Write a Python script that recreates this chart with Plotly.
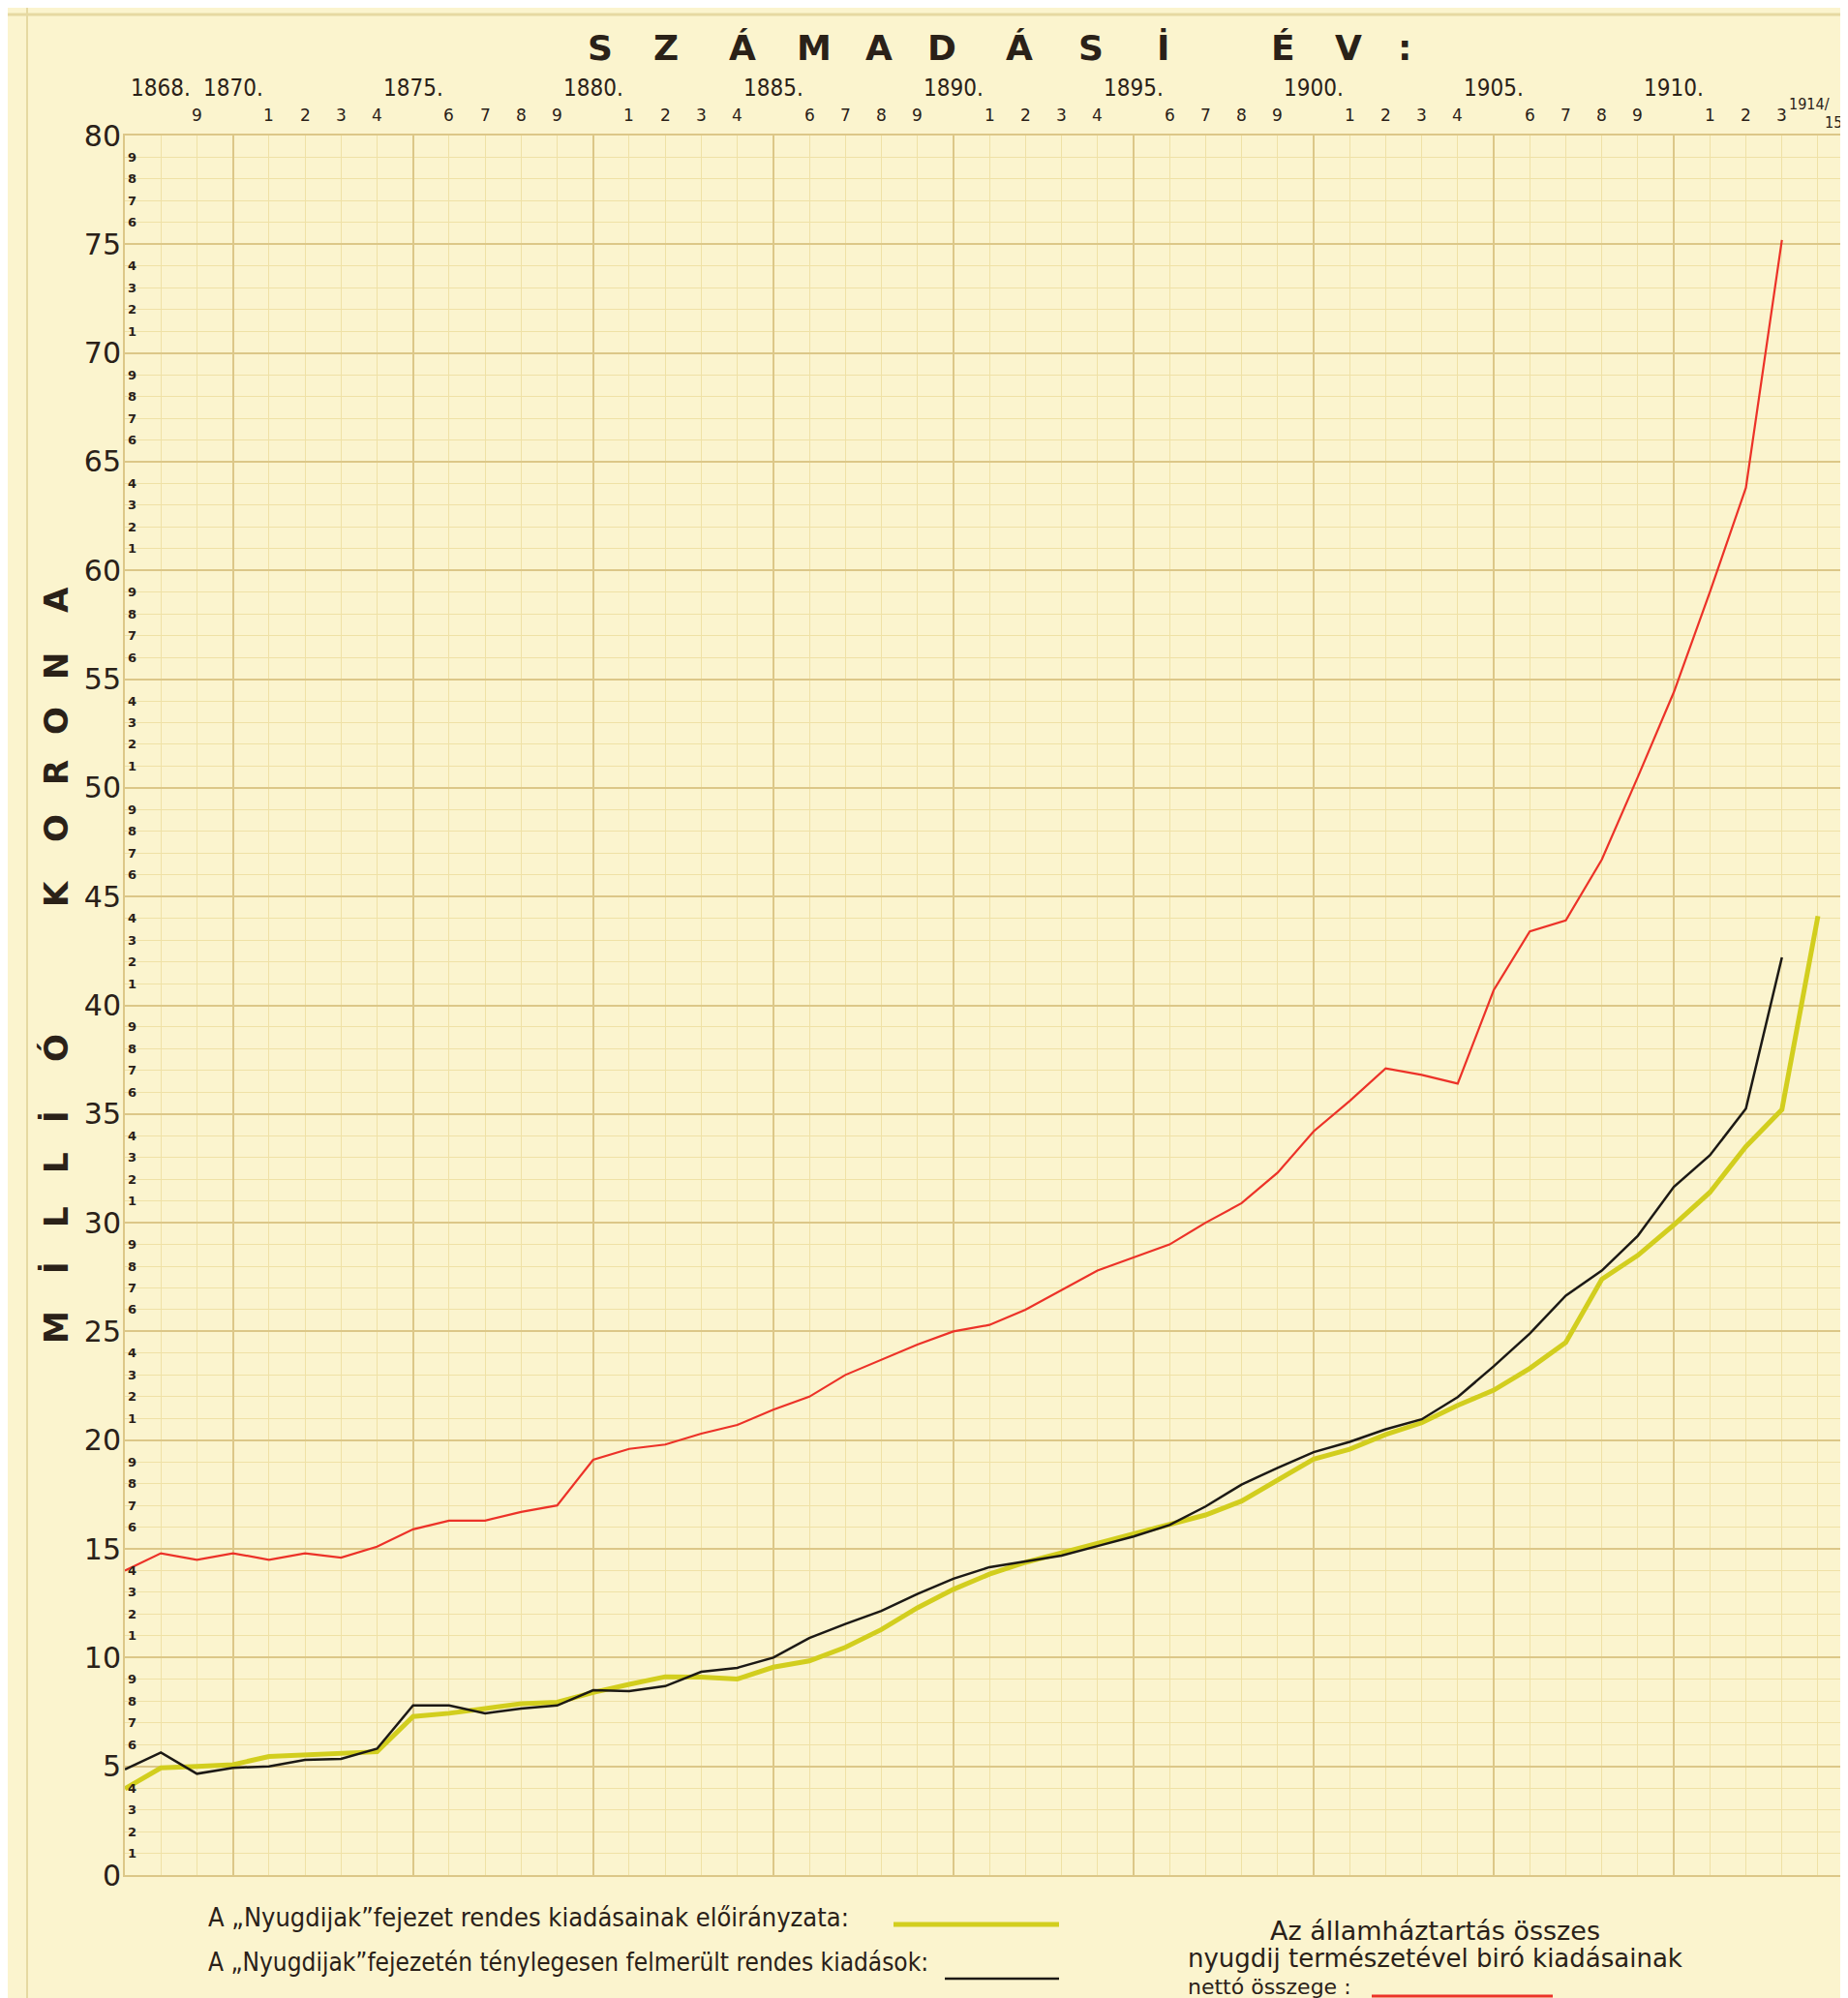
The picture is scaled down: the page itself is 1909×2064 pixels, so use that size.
import plotly.graph_objects as go

# ---------------- data (million korona) ----------------
years_red = list(range(1867, 1914))
red_net_total = [14.0, 14.8, 14.5, 14.8, 14.5, 14.8, 14.6, 15.1, 15.9, 16.3, 16.3, 16.7, 17.0,
                 19.1, 19.6, 19.8, 20.3, 20.7, 21.4, 22.0, 23.0, 23.7, 24.4,
                 25.0, 25.3, 26.0, 26.9, 27.8, 28.4, 29.0, 30.0, 30.9, 32.3,
                 34.2, 35.6, 37.1, 36.8, 36.4, 40.7, 43.4, 43.9, 46.7, 50.5,
                 54.4, 59.0, 63.8, 75.2]
years_black = list(range(1867, 1914))
black_actual = [4.86, 5.64, 4.66, 4.93, 5.0, 5.3, 5.34, 5.81, 7.8, 7.8, 7.44, 7.66, 7.8,
                8.5, 8.46, 8.69, 9.35, 9.53, 10.0, 10.9, 11.55, 12.15, 12.93,
                13.63, 14.16, 14.44, 14.69, 15.13, 15.57, 16.1, 16.95, 17.96, 18.73,
                19.45, 19.92, 20.5, 20.96, 21.98, 23.4, 24.9, 26.65, 27.8, 29.4,
                31.65, 33.1, 35.25, 42.2]
years_yellow = list(range(1867, 1915))
yellow_budget = [3.97, 4.93, 5.0, 5.08, 5.45, 5.52, 5.6, 5.67, 7.29, 7.44, 7.66, 7.88, 7.95,
                 8.4, 8.77, 9.12, 9.1, 9.02, 9.56, 9.85, 10.47, 11.29, 12.29,
                 13.14, 13.84, 14.38, 14.82, 15.25, 15.67, 16.12, 16.56, 17.2, 18.14,
                 19.13, 19.58, 20.26, 20.8, 21.6, 22.3, 23.3, 24.5, 27.4, 28.5,
                 29.9, 31.4, 33.5, 35.2, 44.1]

y_major_vals = list(range(0, 81, 5))
y_major_text = [str(v) for v in y_major_vals]
y_minor_vals = [v for v in range(1, 80) if v % 5]
y_minor_text = [str(v % 10) for v in y_minor_vals]

top_row1 = {1868: "1868.", 1870: "1870.", 1875: "1875.", 1880: "1880.", 1885: "1885.",
            1890: "1890.", 1895: "1895.", 1900: "1900.", 1905: "1905.", 1910: "1910."}
top_row2_years = [y for y in range(1869, 1914) if y % 5 != 0]
top_row2_text = [str(y % 10) for y in top_row2_years]

title_letters = ["S", "Z", "Á", "M", "A", "D", "Á", "S", "İ", "É", "V", ":"]
ytitle_letters = ["M", "İ", "L", "L", "İ", "Ó", "K", "O", "R", "O", "N", "A"]

legend_texts = [
    "A \u201eNyugdijak\u201dfejezet rendes kiadásainak előirányzata:",
    "A \u201eNyugdijak\u201dfejezetén ténylegesen felmerült rendes kiadások:",
]
legend_right = ["Az államháztartás összes",
                "nyugdij természetével biró kiadásainak",
                "nettó összege :"]

# ---------------- layout helpers ----------------
W, H = 1909, 2064
L, R, T, B = 121, 13, 132, 135
PW, PH = W - L - R, H - T - B


def px(x):
    return (x - L) / PW


def py(y):
    return (H - B - y) / PH


PAPER = "#FBF4CE"
MINOR = "#EFE1A6"
MAJOR = "#DCC788"
INK = "#2A2118"
RED = "#EC3228"
BLACK = "#1C1915"
YELLOW = "#D2CE1E"
NARROW = "Liberation Sans Narrow, DejaVu Sans Condensed, Arial Narrow, sans-serif"

fig = go.Figure()
fig.add_trace(go.Scatter(x=years_red, y=red_net_total, mode="lines",
                         line=dict(color=RED, width=2.2), showlegend=False))
fig.add_trace(go.Scatter(x=years_yellow, y=yellow_budget, mode="lines",
                         line=dict(color=YELLOW, width=5), showlegend=False))
fig.add_trace(go.Scatter(x=years_black, y=black_actual, mode="lines",
                         line=dict(color=BLACK, width=2.5), showlegend=False))

ann = []


def add_text(x, y, text, size, family="DejaVu Sans", xref="paper", yref="paper",
             xanchor="center", angle=0):
    ann.append(dict(x=x, y=y, xref=xref, yref=yref, text=text, showarrow=False,
                    xanchor=xanchor, yanchor="middle", textangle=angle, borderpad=0,
                    font=dict(family=family, size=size, color=INK)))


# top year labels
for yr, t in top_row1.items():
    add_text(yr, py(83), t, 24, NARROW, xref="x")
for yr, t in zip(top_row2_years, top_row2_text):
    add_text(yr, py(111), t, 17, xref="x")
add_text(px(1861), py(100), "1914/", 16, NARROW)
add_text(px(1888), py(119), "15.", 16, NARROW)

# small unit digits along the y axis
for v, t in zip(y_minor_vals, y_minor_text):
    add_text(px(128), v, "<b>%s</b>" % t, 13, yref="y")

# title letters
tx = [612, 680, 759, 833, 900, 965, 1045, 1119, 1193, 1317, 1385, 1443]
for ch, x in zip(title_letters, tx):
    add_text(px(x), py(42), "<b>%s</b>" % ch, 36)

# y-axis title letters (rotated)
ty = [1363, 1302, 1249, 1193, 1146, 1075, 915, 848, 790, 737, 680, 612]
for ch, y in zip(ytitle_letters, ty):
    add_text(px(50), py(y), "<b>%s</b>" % ch, 34, angle=-90)

# legend texts
add_text(px(206), py(1972), legend_texts[0], 27, NARROW, xanchor="left")
add_text(px(206), py(2019), legend_texts[1], 26, NARROW, xanchor="left")
add_text(px(1303), py(1986), legend_right[0], 27, xanchor="left")
add_text(px(1218), py(2015), legend_right[1], 26, xanchor="left")
add_text(px(1218), py(2044), legend_right[2], 22, xanchor="left")

shapes = [
    dict(type="line", xref="paper", yref="paper", x0=px(915), x1=px(1086), y0=py(1980), y1=py(1980),
         line=dict(color=YELLOW, width=5)),
    dict(type="line", xref="paper", yref="paper", x0=px(968), x1=px(1086), y0=py(2036), y1=py(2036),
         line=dict(color=BLACK, width=2.5)),
    dict(type="line", xref="paper", yref="paper", x0=px(1409), x1=px(1596), y0=py(2054), y1=py(2054),
         line=dict(color=RED, width=3)),
    # page edges
    dict(type="line", xref="paper", yref="paper", x0=px(20), x1=px(20), y0=py(0), y1=py(H),
         line=dict(color="#E6D9A2", width=2)),
    dict(type="line", xref="paper", yref="paper", x0=px(0), x1=px(W), y0=py(7), y1=py(7),
         line=dict(color="#E6D9A2", width=3)),
    dict(type="line", xref="paper", yref="paper", x0=px(1904), x1=px(1904), y0=py(0), y1=py(H),
         line=dict(color="#E9D68E", width=5)),
]

fig.update_layout(
    width=W, height=H,
    margin=dict(l=L, r=R, t=T, b=B),
    paper_bgcolor=PAPER, plot_bgcolor=PAPER,
    annotations=ann, shapes=shapes, showlegend=False,
    xaxis=dict(range=[1867, 1914.7], tickmode="linear", tick0=1870, dtick=5,
               showgrid=True, gridcolor=MAJOR, gridwidth=2, showticklabels=False,
               ticks="", zeroline=False, showline=True, linecolor=MAJOR, linewidth=2, mirror=True,
               minor=dict(tick0=1867, dtick=1, showgrid=True, gridcolor=MINOR, gridwidth=1)),
    yaxis=dict(range=[0, 80], tickmode="array", tickvals=y_major_vals, ticktext=y_major_text,
               showgrid=True, gridcolor=MAJOR, gridwidth=2, ticks="", zeroline=False,
               showline=True, linecolor=MAJOR, linewidth=2, mirror=True,
               ticklabelstandoff=-4,
               tickfont=dict(family="DejaVu Sans", size=30, color=INK),
               minor=dict(tick0=0, dtick=1, showgrid=True, gridcolor=MINOR, gridwidth=1)),
)

fig.write_html("out.html")
